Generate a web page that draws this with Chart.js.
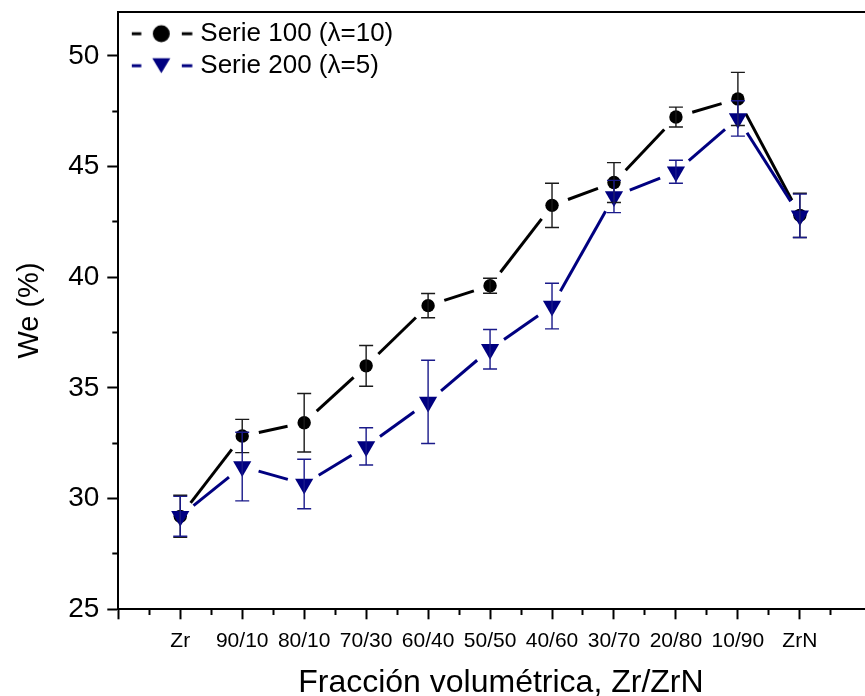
<!DOCTYPE html>
<html lang="es">
<head>
    <meta charset="UTF-8">
    <title>We vs fracción volumétrica</title>
    <style>
        html, body {
            margin: 0;
            padding: 0;
            background: #fff;
            overflow: hidden;
            width: 865px;
            height: 696px;
        }
        #chart-container {
            width: 894px;
            height: 702px;
        }
    </style>
    <script src="https://cdn.jsdelivr.net/npm/chart.js"></script>
</head>
<body>
    <div id="chart-container">
        <canvas id="weChart" width="894" height="702"></canvas>
    </div>

    <script>
        // Datos
        const categories = ['Zr', '90/10', '80/10', '70/30', '60/40', '50/50', '40/60', '30/70', '20/80', '10/90', 'ZrN'];
        const serie100 = [29.2, 32.83, 33.43, 36.0, 38.72, 39.62, 43.25, 44.28, 47.24, 48.06, 42.8];
        const serie100Err = [0.95, 0.75, 1.32, 0.92, 0.55, 0.34, 1.0, 0.9, 0.45, 1.2, 1.0];
        const serie200 = [29.2, 31.45, 30.66, 32.36, 34.37, 36.75, 38.7, 43.65, 44.77, 47.18, 42.78];
        const serie200Err = [0.9, 1.55, 1.12, 0.84, 1.88, 0.89, 1.03, 0.73, 0.52, 0.8, 0.98];
        const yTicks = [25, 30, 35, 40, 45, 50];

        const BLACK = '#000000';
        const NAVY = '#000080';
        const FONT = 'Liberation Sans, Arial, sans-serif';
        const GAP = 17;      // hueco de la línea alrededor de cada símbolo
        const X_MAX = 12.35;
        const CANVAS_H = 702;
        const AXIS_Y = 609.3;

        Chart.defaults.font.family = FONT;
        Chart.defaults.color = BLACK;

        // iconos de la leyenda: guion - símbolo - guion
        function legendIcon(color, shape) {
            const c = document.createElement('canvas');
            c.width = 76;
            c.height = 22;
            const g = c.getContext('2d');
            g.strokeStyle = color;
            g.fillStyle = color;
            g.lineWidth = 3;
            g.beginPath();
            g.moveTo(14, 11); g.lineTo(23.5, 11);
            g.moveTo(64, 11); g.lineTo(74.5, 11);
            g.stroke();
            g.beginPath();
            if (shape === 'circle') {
                g.arc(43.5, 11, 8.5, 0, Math.PI * 2);
            } else {
                g.moveTo(34.5, 3.5); g.lineTo(52.5, 3.5); g.lineTo(43.5, 18.5);
                g.closePath();
            }
            g.fill();
            return c;
        }
        const legendIcons = [legendIcon(BLACK, 'circle'), legendIcon(NAVY, 'triangle')];
        const errors = [serie100Err, serie200Err];
        const errColors = ['#1a1a1a', '#1a1a8a'];

        const toPoints = arr => arr.map((v, i) => ({ x: i + 1, y: v }));

        // línea cortada en cada punto (estilo Origin)
        function segLen(c) {
            return Math.hypot(c.p1.x - c.p0.x, c.p1.y - c.p0.y);
        }
        const gappedSegment = {
            borderDash: c => {
                const L = segLen(c);
                return [Math.max(L - 2 * GAP, 0.01), 2 * GAP];
            },
            borderDashOffset: c => segLen(c) - GAP
        };

        // barras de error
        const errorBars = {
            id: 'errorBars',
            afterDatasetsDraw(chart) {
                const { ctx, scales: { x, y } } = chart;
                chart.data.datasets.forEach((ds, i) => {
                    ctx.save();
                    ctx.strokeStyle = errColors[i];
                    ctx.lineWidth = 1.4;
                    ds.data.forEach((p, j) => {
                        const px = x.getPixelForValue(p.x);
                        const top = y.getPixelForValue(p.y + errors[i][j]);
                        const bot = y.getPixelForValue(p.y - errors[i][j]);
                        ctx.beginPath();
                        ctx.moveTo(px, top); ctx.lineTo(px, bot);
                        ctx.moveTo(px - 7, top); ctx.lineTo(px + 7, top);
                        ctx.moveTo(px - 7, bot); ctx.lineTo(px + 7, bot);
                        ctx.stroke();
                    });
                    ctx.restore();
                });
            }
        };

        // coloca la leyenda dentro del área
        const legendNudge = {
            id: 'legendNudge',
            afterLayout(chart) {
                chart.legend.top = chart.chartArea.top + 3;
            }
        };

        const isMultiple = (v, step) => Math.abs(v / step - Math.round(v / step)) < 1e-9;
        const noPadding = s => { s.paddingTop = 0; s.paddingBottom = 0; s.paddingLeft = 0; s.paddingRight = 0; };

        new Chart(document.getElementById('weChart'), {
            type: 'line',
            data: {
                datasets: [
                    {
                        label: 'Serie 100 (λ=10)',
                        data: toPoints(serie100),
                        borderColor: BLACK,
                        backgroundColor: BLACK,
                        borderWidth: 3,
                        pointStyle: 'circle',
                        pointRadius: 6.7,
                        pointBorderWidth: 0,
                        pointBackgroundColor: BLACK,
                        segment: gappedSegment,
                        order: 1
                    },
                    {
                        label: 'Serie 200 (λ=5)',
                        data: toPoints(serie200),
                        borderColor: NAVY,
                        backgroundColor: NAVY,
                        borderWidth: 3,
                        pointStyle: 'triangle',
                        pointRotation: 180,
                        pointRadius: 10.5,
                        pointBorderWidth: 0,
                        pointBackgroundColor: NAVY,
                        segment: gappedSegment,
                        order: 0
                    }
                ]
            },
            options: {
                responsive: false,
                animation: false,
                devicePixelRatio: 1,
                layout: { padding: { top: 11.7, left: 0, right: 0, bottom: 0 } },
                plugins: {
                    tooltip: { enabled: false },
                    legend: {
                        position: 'chartArea',
                        align: 'start',
                        labels: {
                            usePointStyle: true,
                            pointStyleWidth: 63,
                            padding: 6,
                            font: { size: 26 },
                            color: BLACK,
                            generateLabels: chart => chart.data.datasets.map((ds, i) => ({
                                text: ds.label,
                                pointStyle: legendIcons[i],
                                fillStyle: ds.borderColor,
                                strokeStyle: ds.borderColor,
                                lineWidth: 0,
                                hidden: false,
                                fontColor: BLACK,
                                datasetIndex: i
                            }))
                        }
                    }
                },
                scales: {
                    x: {
                        type: 'linear',
                        position: 'bottom',
                        min: 0,
                        max: X_MAX,
                        afterBuildTicks: s => { s.ticks = s.ticks.filter(t => isMultiple(t.value, 0.5)); },
                        afterFit: s => { s.height = CANVAS_H - AXIS_Y; noPadding(s); },
                        ticks: {
                            stepSize: 0.5,
                            autoSkip: false,
                            maxRotation: 0,
                            padding: 9,
                            font: { size: 21 },
                            color: BLACK,
                            callback: v => (Number.isInteger(v) && v >= 1 && v <= categories.length) ? categories[v - 1] : ''
                        },
                        grid: {
                            drawOnChartArea: false,
                            tickLength: 10,
                            tickWidth: 2,
                            tickColor: BLACK,
                            tickBorderDash: c => Number.isInteger(c.tick.value) ? [] : [5, 20]
                        },
                        border: { width: 2, color: BLACK },
                        title: {
                            display: true,
                            text: 'Fracción volumétrica, Zr/ZrN',
                            font: { size: 32 },
                            color: BLACK,
                            padding: 0
                        }
                    },
                    xTop: {
                        type: 'linear',
                        position: 'top',
                        min: 0,
                        max: X_MAX,
                        afterFit: s => { s.height = 0; noPadding(s); },
                        ticks: { display: false },
                        grid: { display: false, drawTicks: false },
                        border: { width: 2, color: BLACK }
                    },
                    y: {
                        min: 25,
                        max: 52,
                        afterBuildTicks: s => { s.ticks = s.ticks.filter(t => isMultiple(t.value, 2.5)); },
                        afterFit: s => { s.width = 118.3; noPadding(s); },
                        ticks: {
                            stepSize: 2.5,
                            padding: 8,
                            font: { size: 28 },
                            color: BLACK,
                            callback: v => yTicks.includes(v) ? String(v) : ''
                        },
                        grid: {
                            drawOnChartArea: false,
                            tickLength: 11,
                            tickWidth: 2,
                            tickColor: BLACK,
                            tickBorderDash: c => yTicks.includes(c.tick.value) ? [] : [0, 5, 6, 20]
                        },
                        border: { width: 2, color: BLACK },
                        title: {
                            display: true,
                            text: 'We (%)',
                            font: { size: 29 },
                            color: BLACK,
                            padding: { top: 13, bottom: 0 }
                        }
                    }
                }
            },
            plugins: [errorBars, legendNudge]
        });
    </script>
</body>
</html>
